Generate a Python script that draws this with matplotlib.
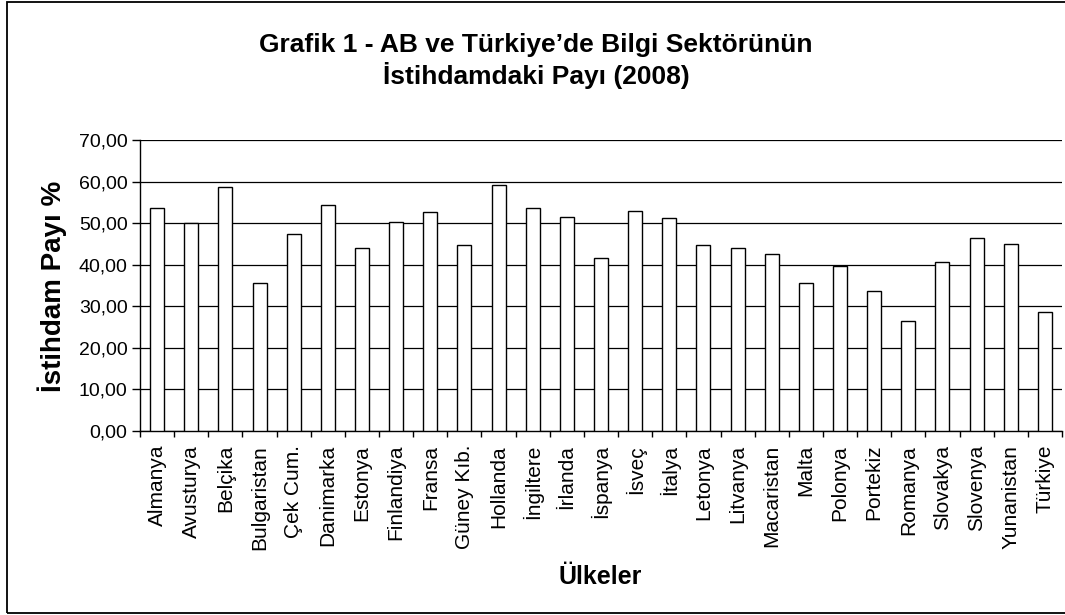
import matplotlib
matplotlib.use("Agg")
import matplotlib.pyplot as plt
from matplotlib.patches import Rectangle
from matplotlib.ticker import FixedLocator, FuncFormatter
import numpy as np

plt.rcParams['font.family'] = ['Liberation Sans', 'DejaVu Sans']

countries = ["Almanya", "Avusturya", "Belçika", "Bulgaristan", "Çek Cum.", "Danimarka",
             "Estonya", "Finlandiya", "Fransa", "Güney Kıb.", "Hollanda", "İngiltere",
             "İrlanda", "İspanya", "İsveç", "İtalya", "Letonya", "Litvanya", "Macaristan",
             "Malta", "Polonya", "Portekiz", "Romanya", "Slovakya", "Slovenya",
             "Yunanistan", "Türkiye"]
shares = [53.7, 50.0, 58.6, 35.7, 47.4, 54.3, 44.1, 50.3, 52.8, 44.7, 59.2, 53.7,
          51.5, 41.7, 53.0, 51.2, 44.7, 44.1, 42.5, 35.7, 39.7, 33.6, 26.5, 40.6,
          46.5, 45.0, 28.7]
y_ticks = [0, 10, 20, 30, 40, 50, 60, 70]

W, H = 1065, 615
fig = plt.figure(figsize=(W / 100, H / 100), dpi=100)
fig.patch.set_facecolor('white')

# outer chart frame
fig.patches.append(Rectangle((6.7 / W, 1 - 612.7 / H), 1.02 - 6.7 / W, (612.7 - 1.7) / H,
                             transform=fig.transFigure, fill=False, edgecolor='black',
                             linewidth=1.3, zorder=0))

ax = fig.add_axes([140 / W, 1 - 431 / H, (1062 - 140) / W, (431 - 140) / H])
x = np.arange(len(countries))
ax.bar(x, shares, width=0.41, color='white', edgecolor='black', linewidth=1.0, zorder=3)

ax.set_xlim(-0.5, len(countries) - 0.5)
ax.set_ylim(0, 70)
ax.set_yticks(y_ticks)
ax.yaxis.set_major_formatter(FuncFormatter(lambda v, p: f"{v:.2f}".replace('.', ',')))
ax.yaxis.grid(True, color='black', linewidth=0.9, zorder=1)
ax.set_axisbelow(True)

ax.set_xticks(x)
ax.set_xticklabels(countries, rotation=90, fontsize=15)
ax.xaxis.set_minor_locator(FixedLocator(np.arange(-0.5, len(countries), 1.0)))
ax.tick_params(axis='x', which='major', length=0, pad=10)
ax.tick_params(axis='x', which='minor', length=4, width=1, direction='out', color='black')
ax.tick_params(axis='y', length=6, width=1, direction='out', labelsize=14, pad=3)

for s in ['top', 'right']:
    ax.spines[s].set_visible(False)
for s in ['left', 'bottom']:
    ax.spines[s].set_linewidth(1.0)
    ax.spines[s].set_color('black')

fig.text(536 / W, 1 - 61 / H, "Grafik 1 - AB ve Türkiye’de Bilgi Sektörünün\nİstihdamdaki Payı (2008)",
         ha='center', va='center', fontsize=19, fontweight='bold', linespacing=1.22)
fig.text(52 / W, 1 - 286 / H, "İstihdam Payı %", rotation=90, ha='center', va='center',
         fontsize=20, fontweight='bold')
fig.text(600 / W, 1 - 577 / H, "Ülkeler", ha='center', va='center', fontsize=18, fontweight='bold')

fig.savefig("out.png", dpi=100)
